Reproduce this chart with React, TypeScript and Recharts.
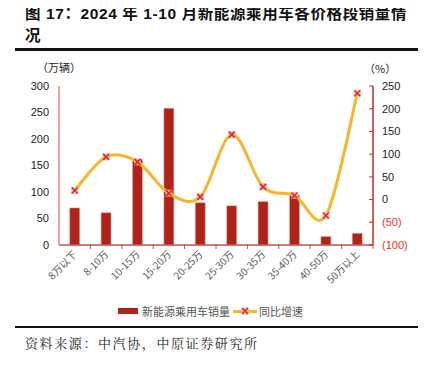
import { Bar, ComposedChart, Line, XAxis, YAxis } from "recharts"

const categories = ["8万以下", "8-10万", "10-15万", "15-20万", "20-25万", "25-30万", "30-35万", "35-40万", "40-50万", "50万以上"]
const sales = [70, 61, 162, 258, 80, 74, 82, 94, 16, 22]
const growth = [20, 94, 83, 14, 6, 143, 28, 9, -35, 234]
const leftTicks = [0, 50, 100, 150, 200, 250, 300]
const rightTicks = [-100, -50, 0, 50, 100, 150, 200, 250]

const data = categories.map((name, i) => ({ name, sales: sales[i], growth: growth[i] }))

const CJK = '"Noto Sans CJK SC", "Liberation Sans", sans-serif'
const NUM = '"Liberation Sans", Arial, "Noto Sans CJK SC", sans-serif'
const PLOT_LEFT = 59
const PLOT_RIGHT = 373
const BAND = (PLOT_RIGHT - PLOT_LEFT) / categories.length

// Excel-like smoothing (Catmull-Rom through every point)
function smoothCurve(context: any) {
  let pts: number[][] = []
  return {
    areaStart() {},
    areaEnd() {},
    lineStart() { pts = [] },
    point(x: number, y: number) { pts.push([+x, +y]) },
    lineEnd() {
      if (!pts.length) return
      context.moveTo(pts[0][0], pts[0][1])
      for (let i = 0; i < pts.length - 1; i++) {
        const p0 = pts[i - 1] || pts[i]
        const p1 = pts[i]
        const p2 = pts[i + 1]
        const p3 = pts[i + 2] || p2
        context.bezierCurveTo(
          p1[0] + (p2[0] - p0[0]) / 6, p1[1] + (p2[1] - p0[1]) / 6,
          p2[0] - (p3[0] - p1[0]) / 6, p2[1] - (p3[1] - p1[1]) / 6,
          p2[0], p2[1]
        )
      }
    },
  }
}

function Marker({ cx, cy }: any) {
  if (cx == null || cy == null) return null
  return (
    <g>
      <rect x={cx - 3.5} y={cy - 3.5} width={7} height={7} fill="#f7b8ad" opacity={0.8} />
      <path d={`M${cx - 3},${cy - 3}L${cx + 3},${cy + 3}M${cx + 3},${cy - 3}L${cx - 3},${cy + 3}`} stroke="#e8231b" strokeWidth={1.5} />
    </g>
  )
}

function LeftTick({ y, payload }: any) {
  return (
    <text x={49} y={y} dy="0.35em" textAnchor="end" fontSize={11} fill="#222" fontFamily={NUM}>
      {payload.value}
    </text>
  )
}

function RightTick({ y, payload }: any) {
  const v = payload.value
  const neg = v < 0
  return (
    <g>
      <line x1={PLOT_RIGHT - 4} x2={PLOT_RIGHT} y1={y} y2={y} stroke="#b8302a" />
      <text x={382} y={y} dy="0.35em" textAnchor="start" fontSize={11} fill={neg ? "#f0302a" : "#222"} fontFamily={NUM}>
        {neg ? `(${-v})` : v}
      </text>
    </g>
  )
}

function XTick({ x, y, payload }: any) {
  return (
    <g>
      <line x1={x + BAND / 2} x2={x + BAND / 2} y1={y - 4} y2={y - 9} stroke="#c0504d" />
      <text x={x + 3} y={y + 2} textAnchor="end" fontSize={10} fill="#555" fontFamily={CJK} transform={`rotate(-45 ${x + 3} ${y + 2})`}>
        {payload.value}
      </text>
    </g>
  )
}

export default function App() {
  return (
    <div style={{ position: "relative", width: 428, height: 369, margin: -8, background: "#fff", overflow: "hidden" }}>
      <div style={{ position: "absolute", left: 25, top: 1, fontFamily: NUM, fontWeight: 700, fontSize: 15.5, letterSpacing: 0.6, color: "#111", whiteSpace: "nowrap" }}>
        图 17：2024 年 1-10 月新能源乘用车各价格段销量情
      </div>
      <div style={{ position: "absolute", left: 25, top: 23, fontFamily: NUM, fontWeight: 700, fontSize: 15.5, color: "#111" }}>
        况
      </div>
      <div style={{ position: "absolute", left: 15, top: 48, width: 403, height: 2.5, background: "#111" }} />

      <div style={{ position: "absolute", left: 37, top: 59, fontFamily: CJK, fontSize: 11, color: "#222" }}>（万辆）</div>
      <div style={{ position: "absolute", left: 364, top: 60, fontFamily: CJK, fontSize: 11, color: "#222" }}>（%）</div>

      <div style={{ position: "absolute", left: 0, top: 0 }}>
        <ComposedChart width={428} height={300} data={data} margin={{ top: 86, right: 0, left: 0, bottom: 0 }} barCategoryGap="34%">
          <XAxis dataKey="name" height={55} interval={0} tick={<XTick />} tickLine={false} axisLine={{ stroke: "#c0504d", strokeWidth: 1.5 }} />
          <YAxis yAxisId="left" width={59} domain={[0, 300]} ticks={leftTicks} interval={0} tick={<LeftTick />} tickLine={false} axisLine={{ stroke: "#d98a86", strokeWidth: 1.5 }} />
          <YAxis yAxisId="right" orientation="right" width={55} domain={[-100, 250]} ticks={rightTicks} interval={0} tick={<RightTick />} tickLine={false} axisLine={{ stroke: "#b8302a", strokeWidth: 1.5 }} />
          <Bar yAxisId="left" dataKey="sales" fill="#b0221a" stroke="#e8b4ae" strokeWidth={0.5} isAnimationActive={false} />
          <Line yAxisId="right" dataKey="growth" type={smoothCurve as any} stroke="#f7b52c" strokeWidth={3} dot={<Marker />} activeDot={false} isAnimationActive={false} />
        </ComposedChart>
      </div>

      <div style={{ position: "absolute", left: 118, top: 308, width: 20, height: 6, background: "#b0221a" }} />
      <div style={{ position: "absolute", left: 142, top: 303, fontFamily: CJK, fontSize: 11, color: "#555" }}>新能源乘用车销量</div>
      <div style={{ position: "absolute", left: 233, top: 310, width: 24, height: 2.5, background: "#f7b52c" }} />
      <svg style={{ position: "absolute", left: 241, top: 307 }} width={8} height={8}>
        <rect x={0.5} y={0.5} width={7} height={7} fill="#f7b8ad" />
        <path d="M1,1L7,7M7,1L1,7" stroke="#e8231b" strokeWidth={1.5} />
      </svg>
      <div style={{ position: "absolute", left: 259, top: 303, fontFamily: CJK, fontSize: 11, color: "#555" }}>同比增速</div>

      <div style={{ position: "absolute", left: 15, top: 326, width: 403, height: 2, background: "#111" }} />
      <div style={{ position: "absolute", left: 25, top: 333, fontFamily: '"Noto Serif CJK SC", "Noto Sans CJK SC", serif', fontSize: 13, letterSpacing: 1.6, color: "#222" }}>
        资料来源：中汽协，中原证券研究所
      </div>
    </div>
  )
}
